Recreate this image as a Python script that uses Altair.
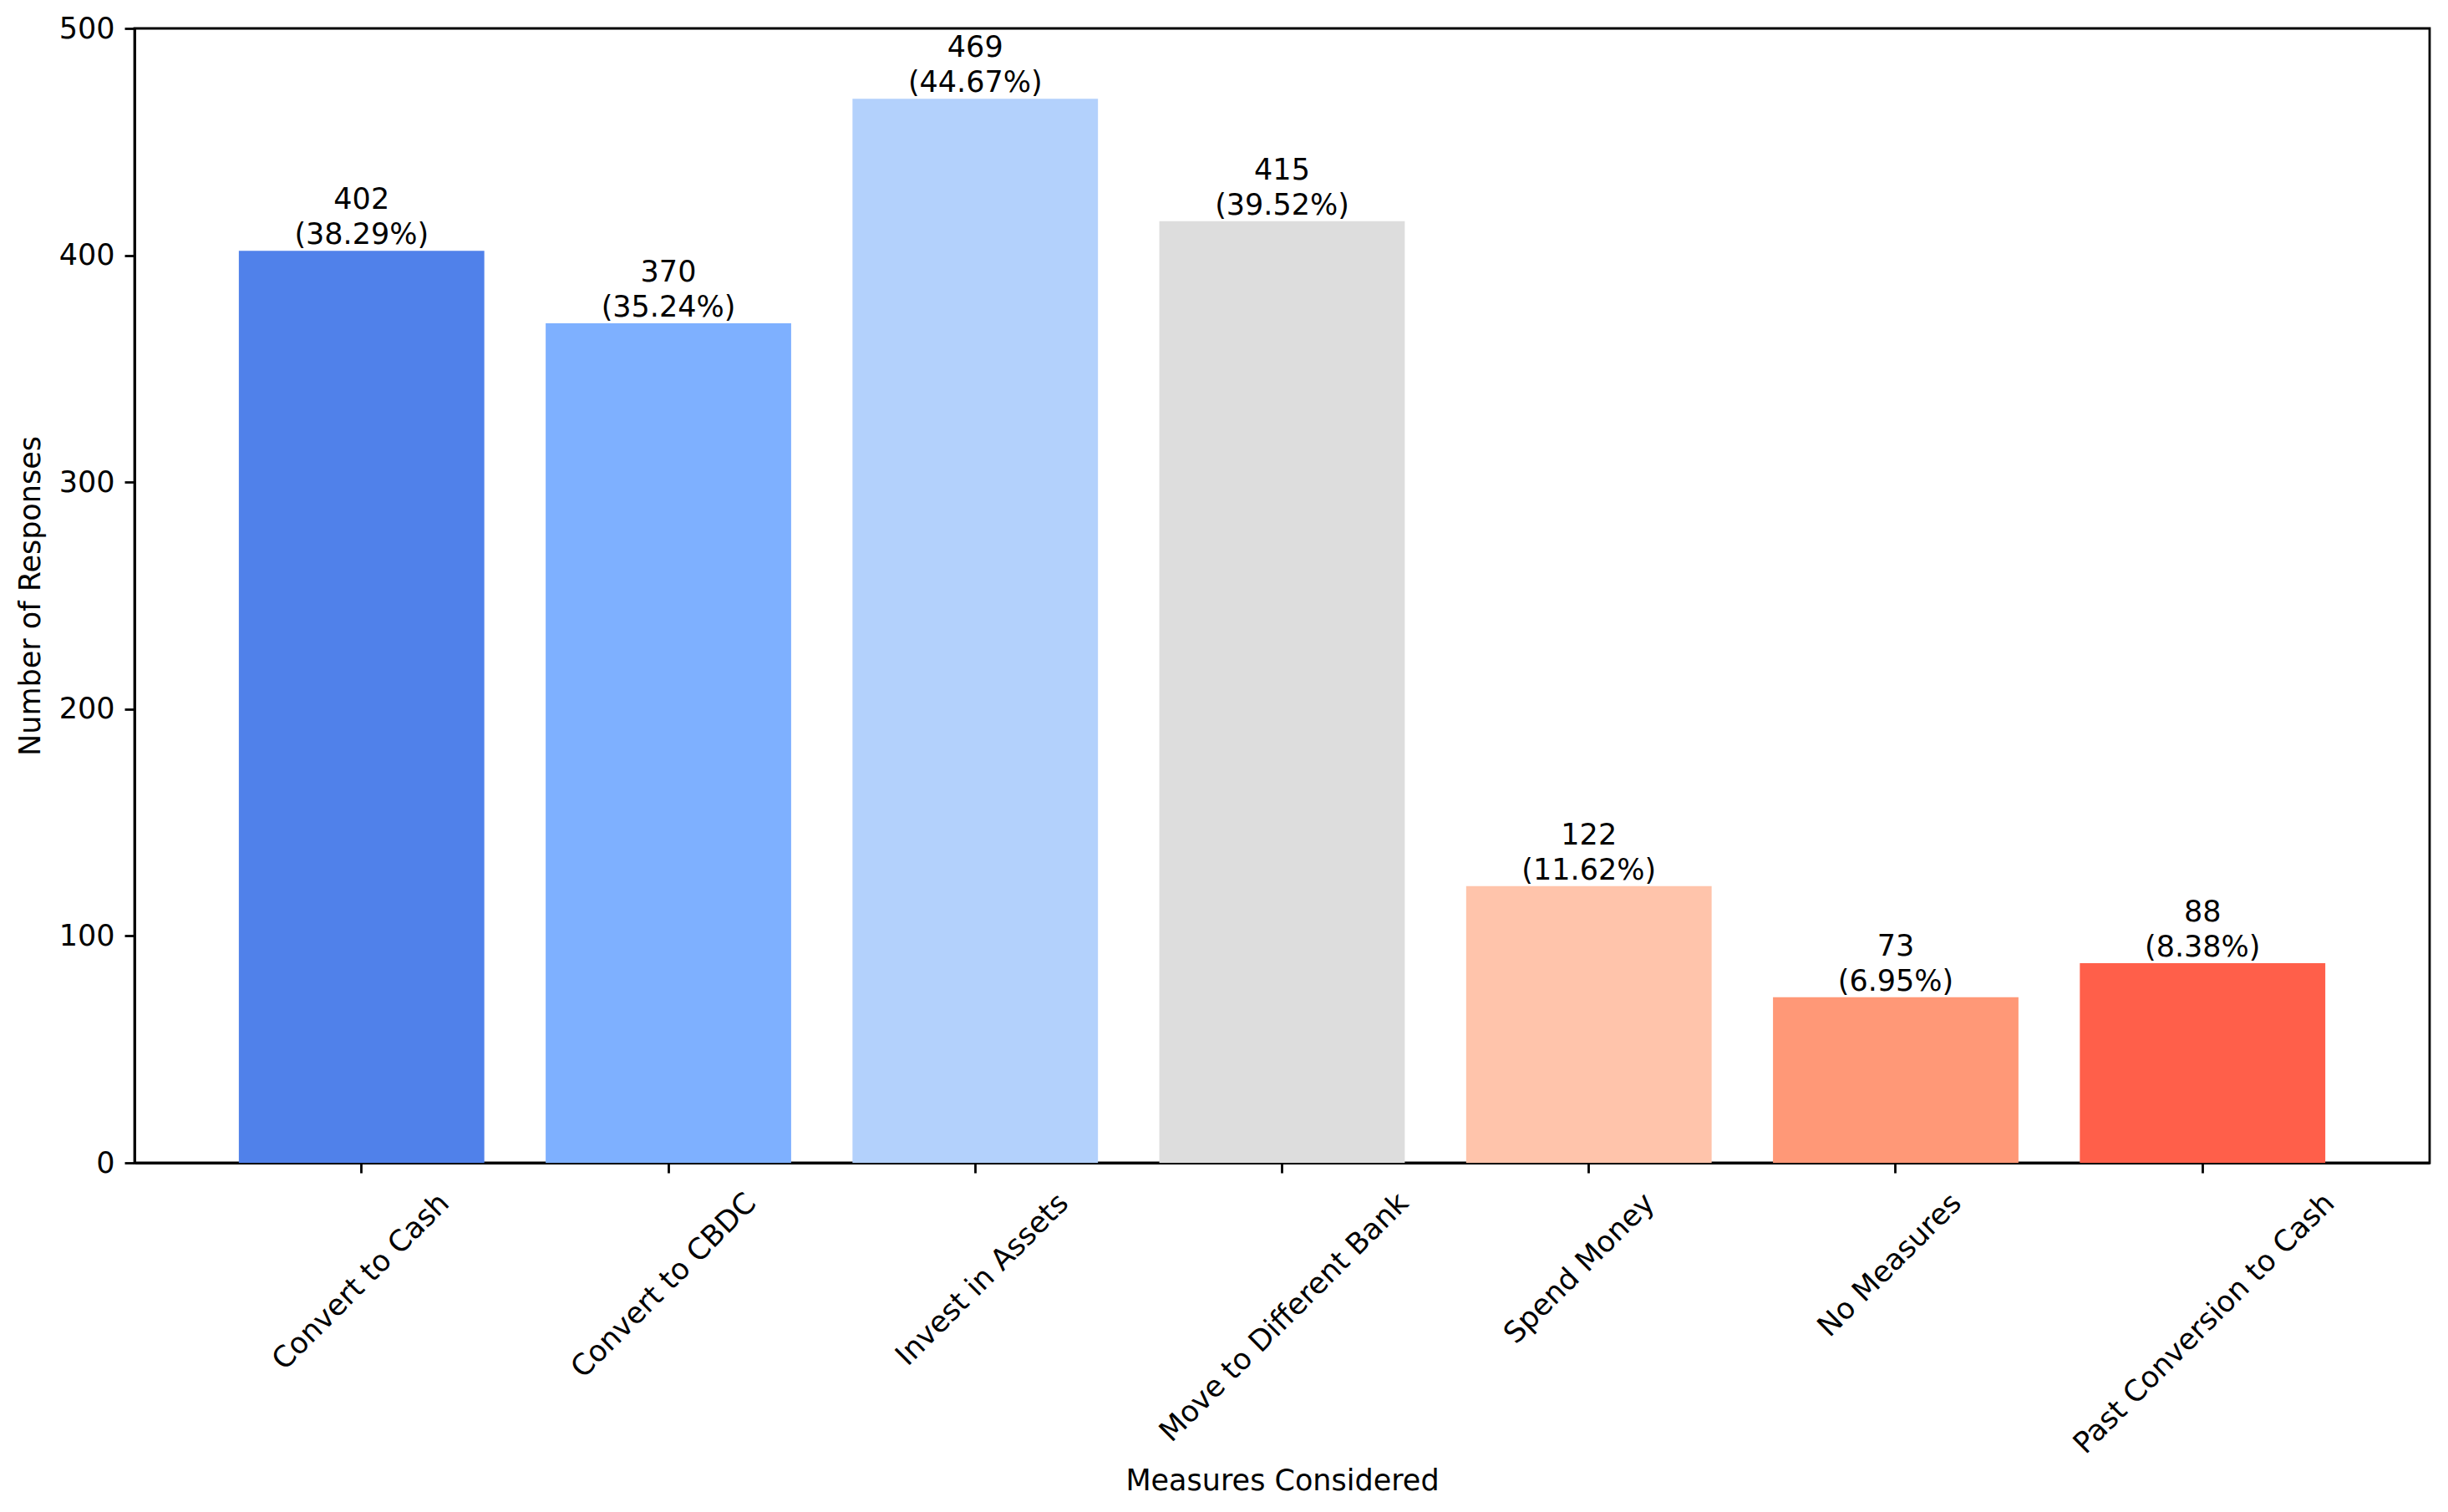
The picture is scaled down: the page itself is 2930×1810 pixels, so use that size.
import altair as alt
import pandas as pd

categories = ["Convert to Cash", "Convert to CBDC", "Invest in Assets",
              "Move to Different Bank", "Spend Money", "No Measures",
              "Past Conversion to Cash"]
counts = [402, 370, 469, 415, 122, 73, 88]
percents = ["38.29", "35.24", "44.67", "39.52", "11.62", "6.95", "8.38"]
colors = ["#5081EA", "#7EB0FF", "#B3D1FC", "#DDDDDD", "#FFC4AB", "#FF9877", "#FF5F4A"]

df = pd.DataFrame({
    "measure": categories,
    "count": counts,
    "label": [f"{c}\n({p}%)" for c, p in zip(counts, percents)],
})

FONT = "DejaVu Sans"
FS = 35

x = alt.X(
    "measure:N",
    sort=categories,
    scale=alt.Scale(paddingInner=0.2, paddingOuter=0.34),
    axis=alt.Axis(
        title="Measures Considered",
        labelAngle=315,
        labelAlign="right",
        labelBaseline="middle",
        labelOffset={"expr": "length(datum.label) * 6.6"},
        labelPadding=30,
        tickSize=12,
        tickWidth=2.8,
        tickColor="black",
        domainColor="black",
        domainWidth=2.8,
        labelColor="black",
        labelFont=FONT,
        labelFontSize=FS,
        titleFont=FONT,
        titleFontSize=FS,
        titleFontWeight="normal",
        titleColor="black",
        titlePadding=163,
        labelLimit=0,
    ),
)

y = alt.Y(
    "count:Q",
    scale=alt.Scale(domain=[0, 500], nice=False),
    axis=alt.Axis(
        title="Number of Responses",
        values=[0, 100, 200, 300, 400, 500],
        grid=False,
        tickSize=12,
        tickWidth=2.8,
        tickColor="black",
        domainColor="black",
        domainWidth=2.8,
        labelColor="black",
        labelPadding=12,
        labelFont=FONT,
        labelFontSize=FS,
        titleFont=FONT,
        titleFontSize=FS,
        titleFontWeight="normal",
        titleColor="black",
        titlePadding=16,
    ),
)

bars = alt.Chart(df).mark_bar().encode(
    x=x,
    y=y,
    color=alt.Color("measure:N", sort=categories,
                    scale=alt.Scale(domain=categories, range=colors), legend=None),
)

text = alt.Chart(df).mark_text(
    baseline="bottom", align="center", lineBreak="\n", lineHeight=42,
    font=FONT, fontSize=FS, color="black", dy=-43,
).encode(
    x=alt.X("measure:N", sort=categories),
    y=alt.Y("count:Q"),
    text="label:N",
)

chart = (bars + text).properties(
    width=2747,
    height=1358,
    autosize=alt.AutoSizeParams(type="none"),
    padding={"left": 153, "top": 26, "right": 14, "bottom": 410},
    background="white",
).configure_view(stroke="black", strokeWidth=2.8)

chart.save("out.html", embed_options={"renderer": "svg", "actions": False})
